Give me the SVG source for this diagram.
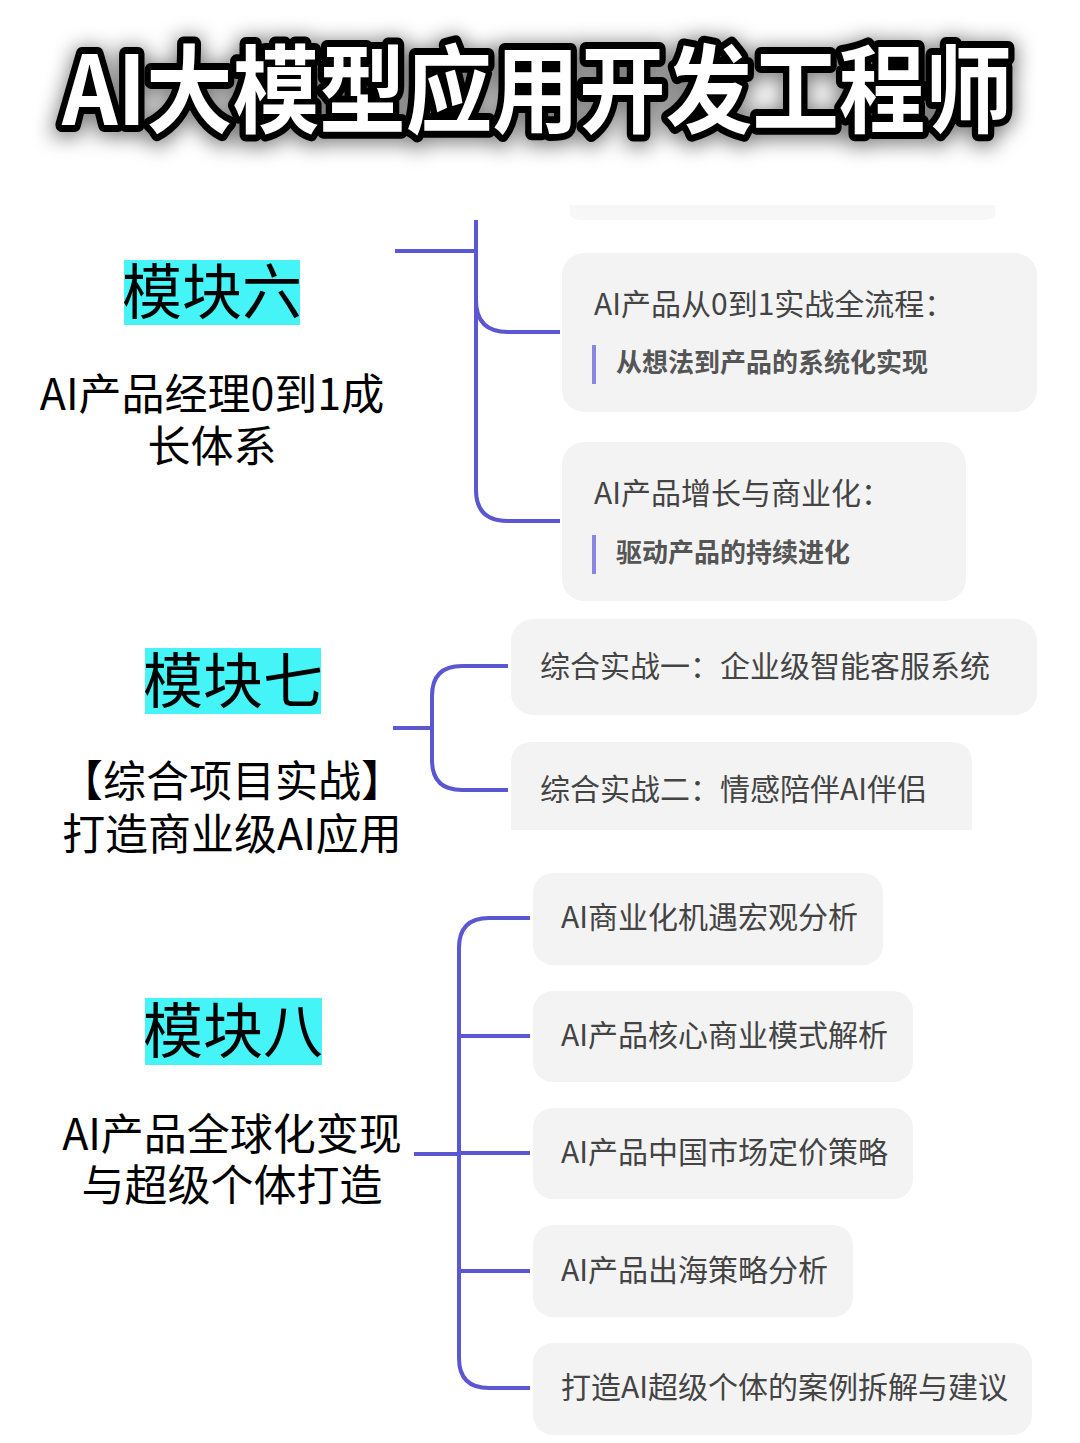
<svg xmlns="http://www.w3.org/2000/svg" width="1080" height="1443" viewBox="0 0 1080 1443">
<style>
text{font-family:"Noto Sans CJK SC","Liberation Sans",sans-serif}
.box{fill:#f3f3f4}
.bt{font-size:30px;fill:#444}
.bs{font-size:26px;fill:#555;font-weight:bold}
.tag{fill:#44f4f7}
.tt{font-size:60px;fill:#000}
.st{font-size:43px;fill:#000;text-anchor:middle}
.ln{fill:none;stroke:#5a57d0;stroke-width:4}
.bar{stroke:#8a86e0;stroke-width:4}
</style>
<defs><filter id="sh" x="-10%" y="-50%" width="120%" height="200%"><feGaussianBlur stdDeviation="10"/></filter></defs>
<rect width="1080" height="1443" fill="#fff"/>
<g id="title">
<text x="62" y="128" textLength="950" lengthAdjust="spacingAndGlyphs" font-size="96" font-weight="bold" fill="#000" stroke="#000" stroke-width="18" opacity="0.5" filter="url(#sh)">AI大模型应用开发工程师</text>
<text x="62" y="125" textLength="950" lengthAdjust="spacingAndGlyphs" font-size="96" font-weight="bold" fill="#000" stroke="#000" stroke-width="14" stroke-linejoin="round">AI大模型应用开发工程师</text>
<text x="62" y="125" textLength="950" lengthAdjust="spacingAndGlyphs" font-size="96" font-weight="bold" fill="#fff">AI大模型应用开发工程师</text>
</g>
<g id="connectors">
<path class="ln" d="M395 251H476M476 220V300Q476 332 508 332H560M476 300V490Q476 521 508 521H560"/>
<path class="ln" d="M393 728H432M508 666H462Q432 666 432 696V760Q432 790 462 790H508"/>
<path class="ln" d="M414 1154H459M530 918H489Q459 918 459 948V1358Q459 1388 489 1388H530M459 1036H530M459 1153H530M459 1271H530"/>
</g>
<g id="m6">
<rect class="tag" x="124" y="260" width="176" height="65"/>
<text class="tt" x="212" y="314" text-anchor="middle">模块六</text>
<text class="st" x="212" y="410">AI产品经理0到1成</text>
<text class="st" x="212" y="462">长体系</text>
</g>
<g id="n6a"><path fill="#f7f7f8" d="M570 205H995V214Q995 220 980 220H585Q570 220 570 214Z"/></g>
<g id="n6b"><rect class="box" x="562" y="253" width="475" height="159" rx="22"/>
<text class="bt" x="594" y="315" font-size="32">AI产品从0到1实战全流程：</text>
<line class="bar" x1="594" y1="345" x2="594" y2="384"/>
<text class="bs" x="616" y="372">从想法到产品的系统化实现</text></g>
<g id="n6c"><rect class="box" x="562" y="442" width="404" height="159" rx="22"/>
<text class="bt" x="594" y="504" font-size="32">AI产品增长与商业化：</text>
<line class="bar" x1="594" y1="535" x2="594" y2="574"/>
<text class="bs" x="616" y="562">驱动产品的持续进化</text></g>
<g id="m7">
<rect class="tag" x="145" y="648" width="176" height="66"/>
<text class="tt" x="233" y="703" text-anchor="middle">模块七</text>
<text class="st" x="232" y="797">【综合项目实战】</text>
<text class="st" x="232" y="850">打造商业级AI应用</text>
</g>
<g id="n7a"><rect class="box" x="511" y="619" width="526" height="96" rx="22"/><text class="bt" x="540" y="677">综合实战一：企业级智能客服系统</text></g>
<g id="n7b"><path class="box" d="M533 742H950Q972 742 972 764V830H511V764Q511 742 533 742Z"/><text class="bt" x="540" y="800">综合实战二：情感陪伴AI伴侣</text></g>
<g id="m8">
<rect class="tag" x="145" y="998" width="177" height="67"/>
<text class="tt" x="233" y="1053" text-anchor="middle">模块八</text>
<text class="st" x="232" y="1150">AI产品全球化变现</text>
<text class="st" x="232" y="1201">与超级个体打造</text>
</g>
<g id="n8a"><rect class="box" x="533" y="873" width="350" height="92" rx="20"/><text class="bt" x="561" y="928" font-size="29">AI商业化机遇宏观分析</text></g>
<g id="n8b"><rect class="box" x="533" y="991" width="380" height="91" rx="20"/><text class="bt" x="561" y="1046" font-size="29">AI产品核心商业模式解析</text></g>
<g id="n8c"><rect class="box" x="533" y="1108" width="380" height="91" rx="20"/><text class="bt" x="561" y="1163" font-size="29">AI产品中国市场定价策略</text></g>
<g id="n8d"><rect class="box" x="533" y="1225" width="320" height="92" rx="20"/><text class="bt" x="561" y="1281" font-size="29">AI产品出海策略分析</text></g>
<g id="n8e"><rect class="box" x="533" y="1343" width="499" height="92" rx="20"/><text class="bt" x="561" y="1398" font-size="29">打造AI超级个体的案例拆解与建议</text></g>
</svg>
